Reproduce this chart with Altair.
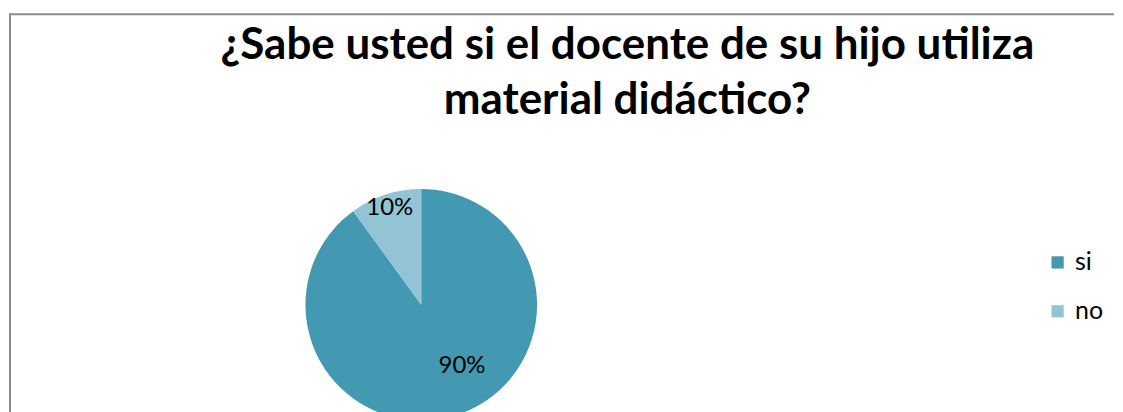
import altair as alt
import pandas as pd

categories = ["si", "no"]
values = [90, 10]
labels = ["90%", "10%"]
colors = ["#4399B1", "#93C4D6"]
title_lines = ["¿Sabe usted si el docente de su hijo utiliza", "material didáctico?"]

df = pd.DataFrame({"respuesta": categories, "valor": values, "etiqueta": labels,
                   "orden": [0, 1]})

W, H = 1107, 400
CX, CY, R = 413, 292, 116

color_scale = alt.Scale(domain=categories, range=colors)

base = alt.Chart(df).encode(
    theta=alt.Theta("valor:Q", stack=True),
    order=alt.Order("orden:Q"),
)

pie = base.mark_arc(outerRadius=R, clip=True).encode(
    x=alt.value(CX), y=alt.value(CY),
    color=alt.Color("respuesta:N", scale=color_scale, sort=categories,
                    legend=alt.Legend(title=None, orient="none", legendX=1038, legendY=237,
                                      symbolType="square", symbolSize=150,
                                      symbolStrokeWidth=0,
                                      labelFont="Lato", labelFontSize=25, labelColor="#000000",
                                      labelOffset=5, rowPadding=23)),
)

txt_no = base.mark_text(radius=102, font="Lato", fontSize=24, color="#000000").encode(
    x=alt.value(CX), y=alt.value(CY),
    text=alt.condition(alt.datum.respuesta == "no", "etiqueta:N", alt.value("")),
)

txt_si = base.mark_text(radius=74, dx=18, dy=-9, font="Lato", fontSize=24, color="#000000").encode(
    x=alt.value(CX), y=alt.value(CY),
    text=alt.condition(alt.datum.respuesta == "si", "etiqueta:N", alt.value("")),
)

border_df = pd.DataFrame({"k": [0]})
left_rule = alt.Chart(border_df).mark_rule(color="#8c8c8c", strokeWidth=2).encode(
    x=alt.value(1), y=alt.value(0), y2=alt.value(H))
top_rule = alt.Chart(border_df).mark_rule(color="#8c8c8c", strokeWidth=2).encode(
    x=alt.value(0), x2=alt.value(W), y=alt.value(1))

chart = alt.layer(left_rule, top_rule, pie, txt_no, txt_si).properties(
    width=W, height=H,
    padding={"top": 4, "left": 0, "right": 0, "bottom": 0},
    title=alt.TitleParams(text=title_lines, font="Lato", fontSize=44, fontWeight="bold",
                          color="#000000", anchor="middle", dx=66, offset=-111,
                          lineHeight=55),
).configure_view(stroke=None)

chart.save("out.html", embed_options={"renderer": "svg", "actions": False})
